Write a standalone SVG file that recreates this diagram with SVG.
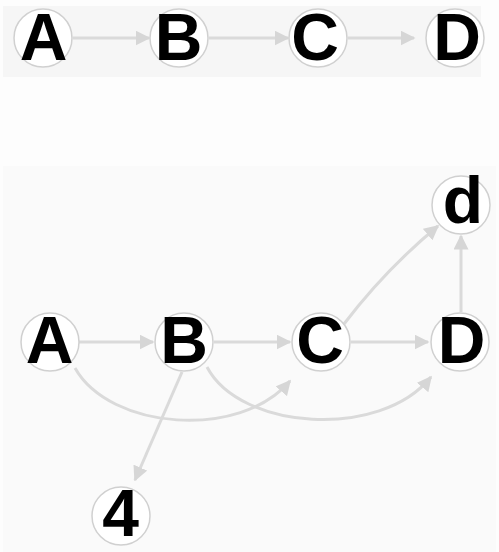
<svg xmlns="http://www.w3.org/2000/svg" width="499" height="552" viewBox="0 0 499 552">
<defs>
<marker id="ah" viewBox="0 0 10 10" refX="9" refY="5" markerWidth="5" markerHeight="5" markerUnits="strokeWidth" orient="auto">
<path d="M0,0 L10,5 L0,10 z" fill="#d6d6d6"/>
</marker>
<style>
.n circle{fill:#ffffff;stroke:#d0d0d0;stroke-width:1.5}
.n text{font-family:"Liberation Sans",Arial,sans-serif;font-weight:bold;font-size:66px;fill:#000;text-anchor:middle}
.e path{fill:none;stroke:#dadada;stroke-width:3;marker-end:url(#ah)}
</style>
</defs>
<rect width="499" height="552" fill="#fdfdfd"/>
<rect x="3" y="6" width="478" height="71" fill="#f6f6f6"/>
<rect x="3" y="166" width="493" height="386" fill="#fafafa"/>
<g id="connectors" class="e">
<path d="M73,38 L149,38"/>
<path d="M209,38 L288,38"/>
<path d="M348,38 L414,38"/>
<path d="M79,342 L153,342"/>
<path d="M214,342 L290,342"/>
<path d="M351,342 L428,342"/>
<path d="M344,324 Q385,270 438,226"/>
<path d="M461,312 L461,236"/>
<path d="M75,368 C110,430 240,440 290,381"/>
<path d="M207,367 C240,430 380,440 431,377"/>
<path d="M182,372 L135,480"/>
</g>
<g id="top-A" class="n"><circle cx="43" cy="38" r="29"/><text x="43.5" y="60">A</text></g>
<g id="top-B" class="n"><circle cx="179" cy="38" r="29"/><text x="178.5" y="60">B</text></g>
<g id="top-C" class="n"><circle cx="318" cy="38" r="29"/><text x="315" y="60">C</text></g>
<g id="top-D" class="n"><circle cx="455" cy="38" r="29"/><text x="457" y="60">D</text></g>
<g id="A" class="n"><circle cx="50" cy="342" r="29"/><text x="49.5" y="363">A</text></g>
<g id="B" class="n"><circle cx="184" cy="342" r="29"/><text x="184" y="363">B</text></g>
<g id="C" class="n"><circle cx="321" cy="342" r="29"/><text x="320" y="363">C</text></g>
<g id="D" class="n"><circle cx="460" cy="342" r="29"/><text x="461.5" y="363">D</text></g>
<g id="d" class="n"><circle cx="461" cy="205" r="29"/><text x="463" y="223">d</text></g>
<g id="n4" class="n"><circle cx="121" cy="516" r="29"/><text x="120.5" y="536">4</text></g>
</svg>
